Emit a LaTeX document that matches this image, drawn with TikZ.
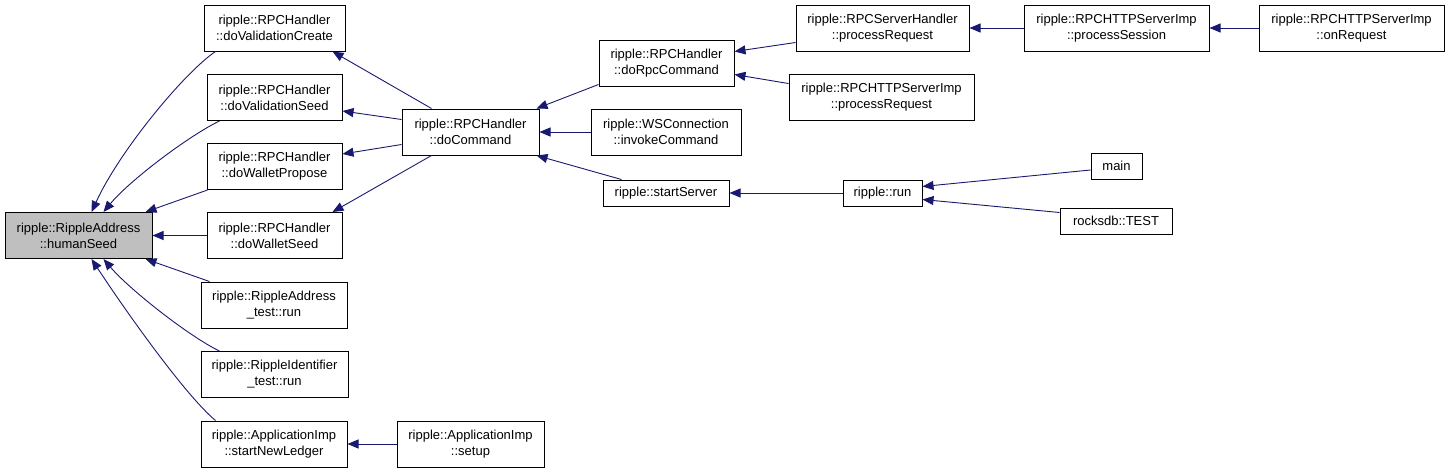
\documentclass[tikz,border=0pt]{standalone}
\usepackage{fontspec}
\setmainfont{Liberation Sans}
\usetikzlibrary{arrows.meta,calc}
\definecolor{edgeblue}{HTML}{191970}
\definecolor{focusgray}{HTML}{BFBFBF}
\begin{document}
\begin{tikzpicture}[x=1pt,y=-1pt,
  box/.style={draw=black, line width=1pt, fill=white, inner sep=0pt, align=center,
    font=\fontsize{13}{16}\selectfont, minimum height=46pt},
  onebox/.style={box, minimum height=26pt},
  edge/.style={draw=edgeblue, line width=0.9pt, {Triangle[length=11pt,width=9pt]}-}]
\useasboundingbox (0,0) rectangle (1451,472);
% nodes
\node[box, fill=focusgray, minimum width=147pt] (hs) at (78.5,235.5) {ripple::RippleAddress\\::humanSeed};
\node[box, minimum width=141pt] (dvc) at (274.5,28) {ripple::RPCHandler\\::doValidationCreate};
\node[box, minimum width=135pt] (dvs) at (274.5,97.5) {ripple::RPCHandler\\::doValidationSeed};
\node[box, minimum width=135pt] (dwp) at (274.5,166.5) {ripple::RPCHandler\\::doWalletPropose};
\node[box, minimum width=135pt] (dws) at (274.5,235.5) {ripple::RPCHandler\\::doWalletSeed};
\node[box, minimum width=146pt] (rat) at (274,305) {ripple::RippleAddress\\\_test::run};
\node[box, minimum width=147pt] (rit) at (274.5,374.5) {ripple::RippleIdentifier\\\_test::run};
\node[box, minimum width=146pt] (snl) at (274,444) {ripple::ApplicationImp\\::startNewLedger};
\node[box, minimum width=147pt] (setup) at (470.5,444) {ripple::ApplicationImp\\::setup};
\node[box, minimum width=137pt] (dc) at (470.5,132) {ripple::RPCHandler\\::doCommand};
\node[box, minimum width=135pt] (drc) at (666.5,63) {ripple::RPCHandler\\::doRpcCommand};
\node[box, minimum width=150pt] (ws) at (666,132) {ripple::WSConnection\\::invokeCommand};
\node[onebox, minimum width=126pt] (ss) at (666,193) {ripple::startServer};
\node[box, minimum width=173pt] (rsh) at (882.5,28) {ripple::RPCServerHandler\\::processRequest};
\node[box, minimum width=185pt] (rhp) at (881.5,97) {ripple::RPCHTTPServerImp\\::processRequest};
\node[onebox, minimum width=79pt] (run) at (882.5,193) {ripple::run};
\node[box, minimum width=185pt] (ps) at (1116.5,28) {ripple::RPCHTTPServerImp\\::processSession};
\node[onebox, minimum width=51pt] (mainf) at (1116.5,166) {main};
\node[onebox, minimum width=112pt] (rt) at (1116,221) {rocksdb::TEST};
\node[box, minimum width=185pt] (onr) at (1351.5,28) {ripple::RPCHTTPServerImp\\::onRequest};
% edges into humanSeed
\draw[edge] ($(hs.north west)+(87,0)$) .. controls (120,150) and (185,72) .. ($(dvc.south west)+(12,0)$);
\draw[edge] ($(hs.north west)+(99,0)$) .. controls (130,180) and (190,135) .. ($(dvs.south west)+(13,0)$);
\draw[edge] ($(hs.north east)+(-7,0)$) -- ($(dwp.south west)+(1,0)$);
\draw[edge] (hs.east) -- (dws.west);
\draw[edge] ($(hs.south east)+(-7,0)$) -- ($(rat.north west)+(9,0)$);
\draw[edge] ($(hs.south west)+(99,0)$) .. controls (130,290) and (190,337) .. ($(rit.north west)+(19,0)$);
\draw[edge] ($(hs.south west)+(87,0)$) .. controls (125,310) and (185,395) .. ($(snl.north west)+(15,0)$);
% edges into column 2
\draw[edge] ($(dvc.south east)+(-13,0)$) -- ($(dc.north west)+(30,0)$);
\draw[edge] ($(dvs.south east)+(0,-10)$) -- ($(dc.north west)+(0,11)$);
\draw[edge] ($(dwp.north east)+(0,11)$) -- ($(dc.south west)+(0,-11)$);
\draw[edge] ($(dws.north east)+(-10,0)$) -- ($(dc.south west)+(30,0)$);
\draw[edge] (snl.east) -- (setup.west);
% edges into doCommand
\draw[edge] ($(dc.north east)+(-3,0)$) -- ($(drc.south west)+(0,-2)$);
\draw[edge] (dc.east) -- (ws.west);
\draw[edge] ($(dc.south east)+(-3,0)$) -- ($(ss.north west)+(19,0)$);
% right part
\draw[edge] ($(drc.north east)+(0,12)$) -- ($(rsh.south west)+(0,-9)$);
\draw[edge] ($(drc.south east)+(0,-12)$) -- ($(rhp.north west)+(0,10)$);
\draw[edge] (rsh.east) -- (ps.west);
\draw[edge] (ps.east) -- (onr.west);
\draw[edge] (ss.east) -- (run.west);
\draw[edge] ($(run.north east)+(0,7)$) -- ($(mainf.west)+(0,4)$);
\draw[edge] ($(run.south east)+(0,-7)$) -- ($(rt.north west)+(0,5)$);
\end{tikzpicture}
\end{document}
